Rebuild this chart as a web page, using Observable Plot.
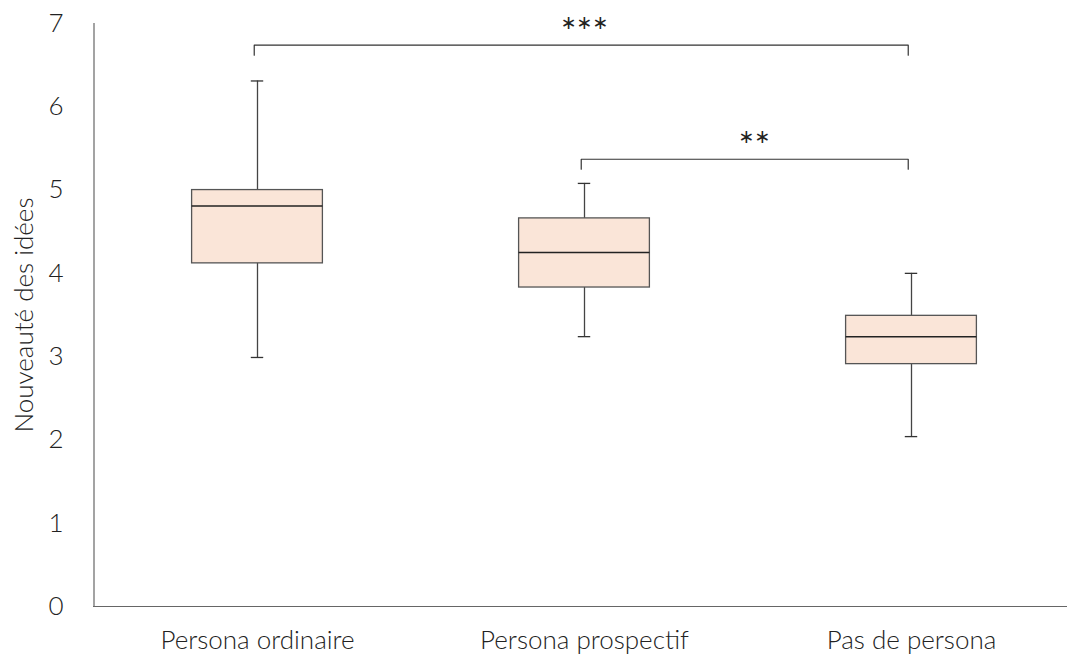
<!DOCTYPE html>
<html>
<head>
<meta charset="utf-8">
<script src="https://cdn.jsdelivr.net/npm/d3@7"></script>
<script src="https://cdn.jsdelivr.net/npm/@observablehq/plot@0.6"></script>
<style>
  html, body { margin: 0; padding: 0; background: #fff; }
  svg { font-family: "Lato", "Open Sans", sans-serif; font-weight: 300; }
</style>
</head>
<body>
<div id="chart"></div>
<script>
const categories = ["Persona ordinaire", "Persona prospectif", "Pas de persona"];
const whiskerLow  = [2.99, 3.24, 2.04];
const q1          = [4.12, 3.83, 2.91];
const median      = [4.81, 4.25, 3.24];
const q3          = [5.00, 4.66, 3.49];
const whiskerHigh = [6.31, 5.08, 4.00];

const yTicks = [0, 1, 2, 3, 4, 5, 6, 7];

const bracketFrom  = [0, 1];
const bracketTo    = [2, 2];
const bracketY     = [6.74, 5.37];
const bracketLabel = ["∗∗∗", "∗∗"];

const boxes = categories.map((c, i) => ({
  i, c, lo: whiskerLow[i], q1: q1[i], med: median[i], q3: q3[i], hi: whiskerHigh[i]
}));

const drop = 0.12, shift = -0.01;
const bracketPts = [];
bracketFrom.forEach((f, k) => {
  const a = f + shift, b = bracketTo[k] + shift, y = bracketY[k];
  bracketPts.push({k, x: a, y: y - drop}, {k, x: a, y}, {k, x: b, y}, {k, x: b, y: y - drop});
});
const bracketText = bracketFrom.map((f, k) => ({
  x: (f + bracketTo[k]) / 2 + (k === 0 ? 0 : 0.02),
  y: bracketY[k] + 0.27,
  label: bracketLabel[k]
}));

const bw = 0.2, cap = 0.019;

const plot = Plot.plot({
  width: 1067,
  height: 666,
  marginLeft: 93,
  marginRight: 0,
  marginTop: 23,
  marginBottom: 60,
  x: { type: "linear", domain: [-0.5, 2.5], range: [93.5, 1074.5] },
  y: { domain: [0, 7] },
  marks: [
    Plot.axisY({ ticks: yTicks, tickFormat: (d) => String(d), tickSize: 0, tickPadding: 30, fontSize: 26, fill: "#222", label: null }),
    Plot.axisX({ ticks: [0, 1, 2], tickFormat: (d) => categories[d], tickSize: 0, tickPadding: 24, fontSize: 26, fill: "#222", label: null }),
    // whiskers
    Plot.ruleX(boxes, { x: "i", y1: "lo", y2: "hi", stroke: "#444", strokeWidth: 1.3 }),
    Plot.ruleY(boxes, { x1: d => d.i - cap, x2: d => d.i + cap, y: "lo", stroke: "#333", strokeWidth: 1.3 }),
    Plot.ruleY(boxes, { x1: d => d.i - cap, x2: d => d.i + cap, y: "hi", stroke: "#333", strokeWidth: 1.3 }),
    // boxes
    Plot.rect(boxes, { x1: d => d.i - bw, x2: d => d.i + bw, y1: "q1", y2: "q3", fill: "#FAE5D8", stroke: "#555", strokeWidth: 1.3 }),
    Plot.ruleY(boxes, { x1: d => d.i - bw, x2: d => d.i + bw, y: "med", stroke: "#222", strokeWidth: 1.5 }),
    // axes lines
    Plot.ruleX([-0.5], { y1: 0, y2: 7, stroke: "#666", strokeWidth: 1.2 }),
    Plot.ruleY([0], { stroke: "#666", strokeWidth: 1.2 }),
    // significance brackets
    Plot.line(bracketPts, { x: "x", y: "y", z: "k", stroke: "#333", strokeWidth: 1.2, curve: "linear" }),
    Plot.text(bracketText, { x: "x", y: "y", text: "label", fontSize: 19, fill: "#222", fontFamily: "DejaVu Sans", fontWeight: "normal" }),
    // y label
    Plot.text(["Nouveauté des idées"], { frameAnchor: "left", textAnchor: "middle", dx: -69, rotate: -90, fontSize: 26, fill: "#222" })
  ]
});
document.getElementById("chart").appendChild(plot);
</script>
</body>
</html>
